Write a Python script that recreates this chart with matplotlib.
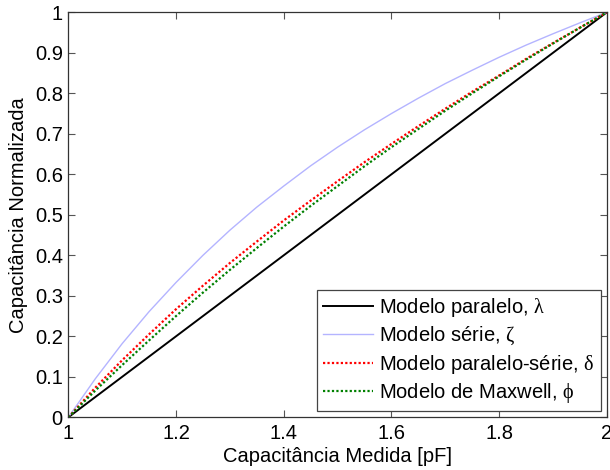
import matplotlib
matplotlib.use("Agg")
import matplotlib.pyplot as plt

# Measured capacitance (pF)
x = [1.00, 1.05, 1.10, 1.15, 1.20, 1.25, 1.30, 1.35, 1.40, 1.45, 1.50,
     1.55, 1.60, 1.65, 1.70, 1.75, 1.80, 1.85, 1.90, 1.95, 2.00]

# Normalized capacitance
paralelo = [0.000, 0.050, 0.100, 0.150, 0.200, 0.250, 0.300, 0.350, 0.400, 0.450, 0.500,
            0.550, 0.600, 0.650, 0.700, 0.750, 0.800, 0.850, 0.900, 0.950, 1.000]
serie = [0.000, 0.095, 0.182, 0.261, 0.333, 0.400, 0.462, 0.519, 0.571, 0.621, 0.667,
         0.710, 0.750, 0.788, 0.824, 0.857, 0.889, 0.919, 0.947, 0.974, 1.000]
paralelo_serie = [0.000, 0.073, 0.141, 0.205, 0.267, 0.325, 0.381, 0.434, 0.486, 0.535, 0.583,
                  0.630, 0.675, 0.719, 0.762, 0.804, 0.844, 0.885, 0.924, 0.962, 1.000]
maxwell = [0.000, 0.066, 0.129, 0.190, 0.250, 0.308, 0.364, 0.418, 0.471, 0.522, 0.571,
           0.620, 0.667, 0.712, 0.757, 0.800, 0.842, 0.883, 0.923, 0.962, 1.000]

labels = [r"Modelo paralelo, $\mathrm{\lambda}$",
          r"Modelo série, $\mathrm{\zeta}$",
          r"Modelo paralelo-série, $\mathrm{\delta}$",
          r"Modelo de Maxwell, $\mathrm{\phi}$"]
xticks = [1, 1.2, 1.4, 1.6, 1.8, 2]
xtick_labels = ["1", "1.2", "1.4", "1.6", "1.8", "2"]
yticks = [0, 0.1, 0.2, 0.3, 0.4, 0.5, 0.6, 0.7, 0.8, 0.9, 1]
ytick_labels = ["0", "0.1", "0.2", "0.3", "0.4", "0.5", "0.6", "0.7", "0.8", "0.9", "1"]

plt.rcParams['font.family'] = ['Liberation Sans', 'DejaVu Sans']
plt.rcParams['mathtext.fontset'] = 'custom'
plt.rcParams['mathtext.rm'] = 'Liberation Serif'
plt.rcParams['mathtext.it'] = 'Liberation Serif:italic'

fs = 14.5
fig = plt.figure(figsize=(6.1, 4.7), dpi=100)
ax = fig.add_axes([0.112, 0.1121, 0.8828, 0.8617])

ax.plot(x, paralelo, color='black', lw=1.4, linestyle='-', label=labels[0])
ax.plot(x, serie, color='#b4b4ff', lw=1.0, linestyle='-', label=labels[1])
ax.plot(x, paralelo_serie, color='red', lw=1.6, linestyle=(0, (1, 1)), label=labels[2])
ax.plot(x, maxwell, color='green', lw=1.6, linestyle=(0, (1, 1)), label=labels[3])

ax.set_xlim(1, 2)
ax.set_ylim(0, 1)
ax.set_xticks(xticks)
ax.set_xticklabels(xtick_labels)
ax.set_yticks(yticks)
ax.set_yticklabels(ytick_labels)
ax.tick_params(direction='in', length=5, width=0.8, top=True, right=True,
               labelsize=fs, color='#555555')
ax.tick_params(axis='x', pad=5)
ax.tick_params(axis='y', pad=4)
for s in ax.spines.values():
    s.set_linewidth(0.9)
    s.set_color('#333333')

ax.set_xlabel("Capacitância Medida [pF]", fontsize=fs, labelpad=3)
ax.set_ylabel("Capacitância Normalizada", fontsize=fs, labelpad=5)

leg = ax.legend(loc='lower right', fontsize=fs, fancybox=False, framealpha=1,
                edgecolor='#444444', handlelength=2.5, handletextpad=0.3,
                borderpad=0.3, labelspacing=0.28, borderaxespad=0.3)
leg.get_frame().set_linewidth(0.9)

fig.savefig("out.png", dpi=100)
